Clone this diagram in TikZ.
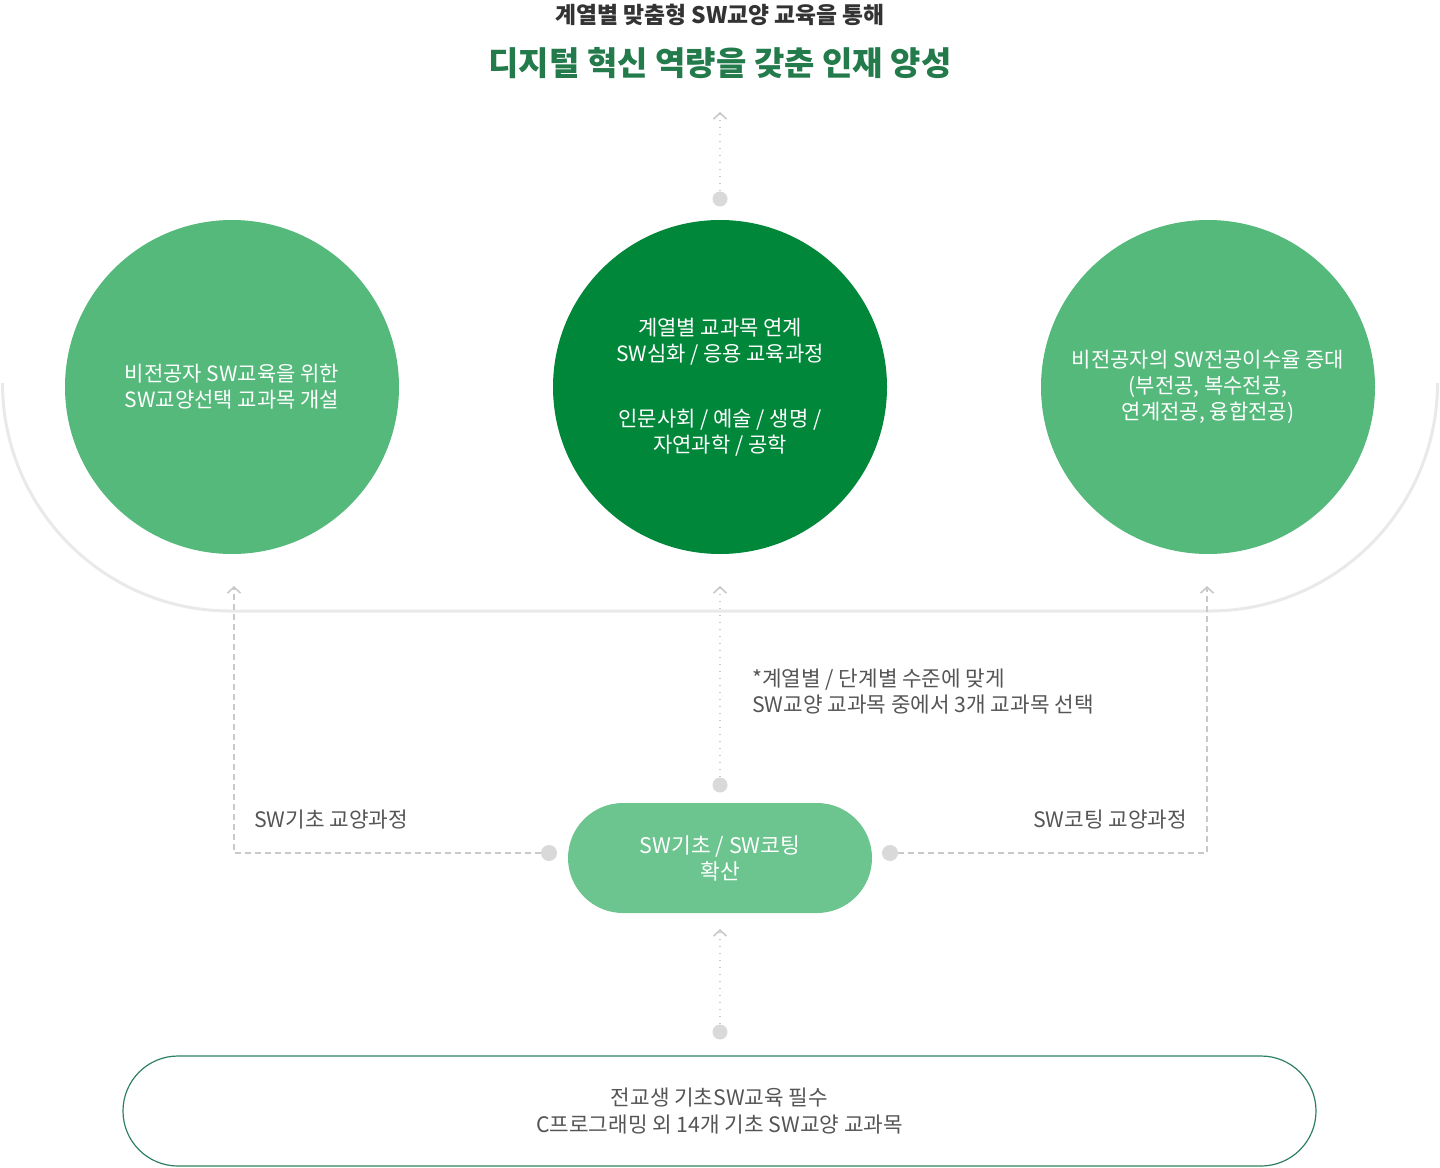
\documentclass[tikz,border=0pt]{standalone}
\usepackage{fontspec}
\newfontfamily\kr{Noto Sans CJK KR}
\usetikzlibrary{arrows.meta}
\definecolor{lightgreen}{HTML}{55B97C}
\definecolor{darkgreen}{HTML}{00873A}
\definecolor{pillgreen}{HTML}{6CC48F}
\definecolor{boxgreen}{HTML}{2E8060}
\definecolor{titlegreen}{HTML}{237A4B}
\definecolor{subgray}{HTML}{333333}
\definecolor{labgray}{HTML}{555555}
\definecolor{dotgray}{HTML}{D9D9D9}
\definecolor{linegray}{HTML}{C9C9C9}
\definecolor{arcgray}{HTML}{E9E9E9}
\begin{document}
\begin{tikzpicture}[x=1pt,y=1pt,
  bub/.style={circle,minimum size=334pt,inner sep=0pt,text=white,align=center,
    font=\kr\fontsize{21}{26}\selectfont},
  dotnode/.style={circle,fill=dotgray,minimum size=15pt,inner sep=0pt},
  lbl/.style={text=labgray,font=\kr\fontsize{21.3}{26}\selectfont,inner sep=0pt,align=left},
  tipstyle/.style={-{Straight Barb[length=6pt,width=13pt,line width=1.6pt]}},
  conndot/.style={draw=linegray,line width=1.8pt,dash pattern=on 1.8pt off 5.2pt,tipstyle},
  conndash/.style={draw=linegray,line width=1.8pt,dash pattern=on 6pt off 4pt,tipstyle}
]
\useasboundingbox (0,0) rectangle (1440,-1167);

% background arc
\draw[arcgray,line width=3pt] (2.5,-383) arc[start angle=180,end angle=270,radius=228pt]
  -- (1209.5,-611) arc[start angle=270,end angle=360,radius=228pt];

% titles
\node[font=\kr\bfseries\fontsize{22.8}{26}\selectfont,text=subgray,inner sep=0pt] (sub) at (720,-15) {계열별 맞춤형 SW교양 교육을 통해};
\node[font=\kr\bfseries\fontsize{33}{38}\selectfont,text=titlegreen,inner sep=0pt] (title) at (720,-63) {디지털 혁신 역량을 갖춘 인재 양성};

% circles
\node[bub,fill=lightgreen] (cl) at (232,-387) {비전공자 SW교육을 위한\\SW교양선택 교과목 개설};
\node[bub,fill=darkgreen] (cc) at (720,-387) {계열별 교과목 연계\\SW심화 / 응용 교육과정\\[39pt]인문사회 / 예술 / 생명 /\\자연과학 / 공학};
\node[bub,fill=lightgreen] (cr) at (1208,-387) {비전공자의 SW전공이수율 증대\\(부전공, 복수전공,\\연계전공, 융합전공)};

% pill
\node[fill=pillgreen,rounded corners=55pt,minimum width=304pt,minimum height=110pt,inner sep=0pt,
  text=white,align=center,font=\kr\fontsize{21.5}{26}\selectfont] (pill) at (720,-858) {SW기초 / SW코팅\\확산};

% bottom box
\node[draw=boxgreen,line width=1.2pt,rounded corners=55pt,minimum width=1193pt,minimum height=110pt,inner sep=0pt,
  text=labgray,align=center,font=\kr\fontsize{21.3}{27}\selectfont] (base) at (719.5,-1111) {전교생 기초SW교육 필수\\C프로그래밍 외 14개 기초 SW교양 교과목};

% dots
\node[dotnode] (dtop) at (720,-199) {};
\node[dotnode] (dmid) at (720,-785) {};
\node[dotnode,minimum size=16pt] (dleft) at (549,-853) {};
\node[dotnode,minimum size=16pt] (dright) at (890,-853) {};
\node[dotnode] (dbot) at (720,-1032) {};

% free ends
\coordinate (ttop) at (720,-112);
\coordinate (tmid) at (720,-586);
\coordinate (kleft) at (234,-853);
\coordinate (tleft) at (234,-586);
\coordinate (kright) at (1207,-853);
\coordinate (tright) at (1207,-586);
\coordinate (tbot) at (720,-929);

% connectors
\draw[conndot] (dtop.north) -- (ttop);
\draw[conndot] (dmid.north) -- (tmid);
\draw[conndot] (dbot.north) -- (tbot);
\draw[conndash] (dleft.west) -- (kleft) -- (tleft);
\draw[conndash] (dright.east) -- (kright) -- (tright);

% labels
\node[lbl,anchor=west] (lab1) at (254,-820) {SW기초 교양과정};
\node[lbl,anchor=east] (lab2) at (1187,-820) {SW코팅 교양과정};
\node[lbl,anchor=west] (note) at (752,-692) {*계열별 / 단계별 수준에 맞게\\SW교양 교과목 중에서 3개 교과목 선택};
\end{tikzpicture}
\end{document}
